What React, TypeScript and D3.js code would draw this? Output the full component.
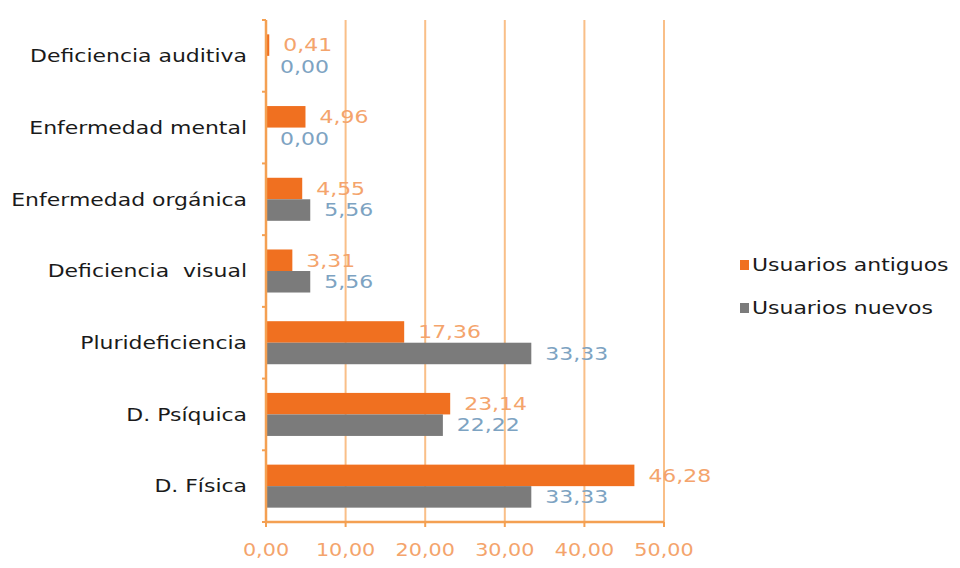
import React from "react";
import * as d3 from "d3";

const categories = ["Deficiencia auditiva", "Enfermedad mental", "Enfermedad orgánica", "Deficiencia  visual", "Plurideficiencia", "D. Psíquica", "D. Física"];
const antiguos = [0.41, 4.96, 4.55, 3.31, 17.36, 23.14, 46.28];
const nuevos = [0.0, 0.0, 5.56, 5.56, 33.33, 22.22, 33.33];
const xTicks = [0, 10, 20, 30, 40, 50];
const seriesNames = ["Usuarios antiguos", "Usuarios nuevos"];

const W = 960, H = 568;
const left = 266, right = 664, top = 20, bottom = 522;
const ORANGE = "#f07020";
const GRAY = "#7b7b7b";
const GRID = "#f9bf88";
const AXIS = "#f4a052";
const ORANGE_LBL = "#f4a46c";
const GRAY_LBL = "#7da3c2";
const FONT = "'DejaVu Sans', Verdana, sans-serif";
const SX = 1.22;

const fmt = (v: number) => v.toFixed(2).replace(".", ",");

function T({ x, y, anchor = "start", fill, size = 18, children }: any) {
  return (
    <text
      transform={`translate(${x},${y}) scale(${SX},1)`}
      dy="0.35em"
      textAnchor={anchor}
      fill={fill}
      fontSize={size}
      fontFamily={FONT}
      style={{ whiteSpace: "pre" }}
    >
      {children}
    </text>
  );
}

export default function App() {
  const x = d3.scaleLinear().domain([0, 50]).range([left, right]);
  const y = d3.scaleBand<string>().domain(categories).range([top, bottom]).paddingInner(0.4).paddingOuter(0.2);
  const outer = d3.scaleBand<string>().domain(categories).range([top, bottom]);
  const bh = y.bandwidth() / 2;

  return (
    <svg width={W} height={H} style={{ position: "absolute", left: 0, top: 0, background: "#fff" }}>
      {xTicks.slice(1).map((t) => (
        <line key={"g" + t} x1={x(t)} x2={x(t)} y1={top} y2={bottom} stroke={GRID} strokeWidth={2} />
      ))}
      {categories.map((c, i) => {
        const y0 = y(c)!;
        return (
          <g key={c}>
            <rect x={x(0)} y={y0} width={x(antiguos[i]) - x(0)} height={bh} fill={ORANGE} />
            <rect x={x(0)} y={y0 + bh} width={x(nuevos[i]) - x(0)} height={bh} fill={GRAY} />
            <T x={x(antiguos[i]) + 14} y={y0 + bh / 2} fill={ORANGE_LBL}>{fmt(antiguos[i])}</T>
            <T x={x(nuevos[i]) + 14} y={y0 + bh * 1.5} fill={GRAY_LBL}>{fmt(nuevos[i])}</T>
            <T x={247} y={outer(c)! + outer.bandwidth() / 2} anchor="end" fill="#1a1a1a">{c}</T>
          </g>
        );
      })}
      <line x1={left} x2={left} y1={top} y2={bottom} stroke={AXIS} strokeWidth={2.5} />
      <line x1={left} x2={right} y1={bottom} y2={bottom} stroke={AXIS} strokeWidth={2.5} />
      {categories.map((c) => (
        <line key={"lt" + c} x1={left - 4} x2={left} y1={outer(c)!} y2={outer(c)!} stroke={AXIS} strokeWidth={2} />
      ))}
      <line x1={left - 4} x2={left} y1={bottom} y2={bottom} stroke={AXIS} strokeWidth={2} />
      {xTicks.map((t) => (
        <g key={"t" + t}>
          <line x1={x(t)} x2={x(t)} y1={bottom} y2={bottom + 5} stroke={AXIS} strokeWidth={2} />
          <T x={x(t)} y={550} anchor="middle" fill={ORANGE_LBL} size={17}>{fmt(t)}</T>
        </g>
      ))}
      {seriesNames.map((s, i) => (
        <g key={s}>
          <rect x={740} y={260 + i * 43} width={9} height={10} fill={i === 0 ? ORANGE : GRAY} />
          <T x={752} y={265 + i * 43} fill="#1a1a1a">{s}</T>
        </g>
      ))}
    </svg>
  );
}
